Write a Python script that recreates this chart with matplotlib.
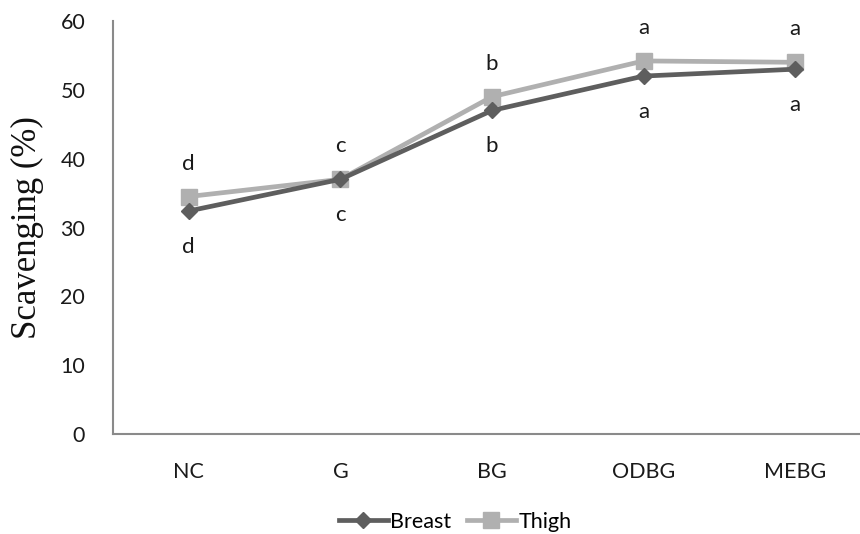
import matplotlib
matplotlib.use("Agg")
import matplotlib.pyplot as plt

categories = ["NC", "G", "BG", "ODBG", "MEBG"]
breast = [32.4, 37.0, 47.0, 52.0, 53.0]
thigh = [34.5, 37.0, 49.0, 54.2, 54.0]
breast_letters = ["d", "c", "b", "a", "a"]
thigh_letters = ["d", "c", "b", "a", "a"]
yticks = [0, 10, 20, 30, 40, 50, 60]

sans = ["Lato", "DejaVu Sans"]
fig = plt.figure(figsize=(8.6, 5.34), dpi=100)
ax = fig.add_axes([113/860, 100/534, (871-113)/860, 413/534])

x = list(range(len(categories)))
ax.plot(x, breast, color="#5e5e5e", lw=3.4, marker="D", ms=8.5, label="Breast", zorder=3)
ax.plot(x, thigh, color="#b0b0b0", lw=3.4, marker="s", ms=11, label="Thigh", zorder=2)

for xi, v, t in zip(x, thigh, thigh_letters):
    ax.annotate(t, (xi, v), xytext=(0, 33), textcoords="offset pixels",
                ha="center", va="center", fontsize=16, family=sans, color="#1a1a1a")
for xi, v, t in zip(x, breast, breast_letters):
    ax.annotate(t, (xi, v), xytext=(0, -36), textcoords="offset pixels",
                ha="center", va="center", fontsize=16, family=sans, color="#1a1a1a")

ax.set_xlim(-0.5, 4.5)
ax.set_ylim(0, 60)
ax.set_yticks(yticks)
ax.set_xticks(x)
ax.set_xticklabels(categories)
ax.tick_params(axis="both", length=0, labelsize=15.5, colors="#1a1a1a")
ax.tick_params(axis="x", pad=20)
ax.tick_params(axis="y", pad=20)
for lab in ax.get_xticklabels() + ax.get_yticklabels():
    lab.set_family(sans)
for s in ["top", "right"]:
    ax.spines[s].set_visible(False)
for s in ["left", "bottom"]:
    ax.spines[s].set_color("#8a8a8a")
    ax.spines[s].set_linewidth(1.5)

ax.set_ylabel("Scavenging (%)", fontsize=25, family=["Liberation Serif", "DejaVu Serif"],
              color="#111111", labelpad=12)

leg = fig.legend(loc="center", bbox_to_anchor=(455/860, 1 - 522/534), ncol=2, frameon=False,
                 prop={"family": sans, "size": 15.5}, handlelength=2.3, handletextpad=0.1,
                 columnspacing=0.7)

fig.savefig("out.png", dpi=100)
